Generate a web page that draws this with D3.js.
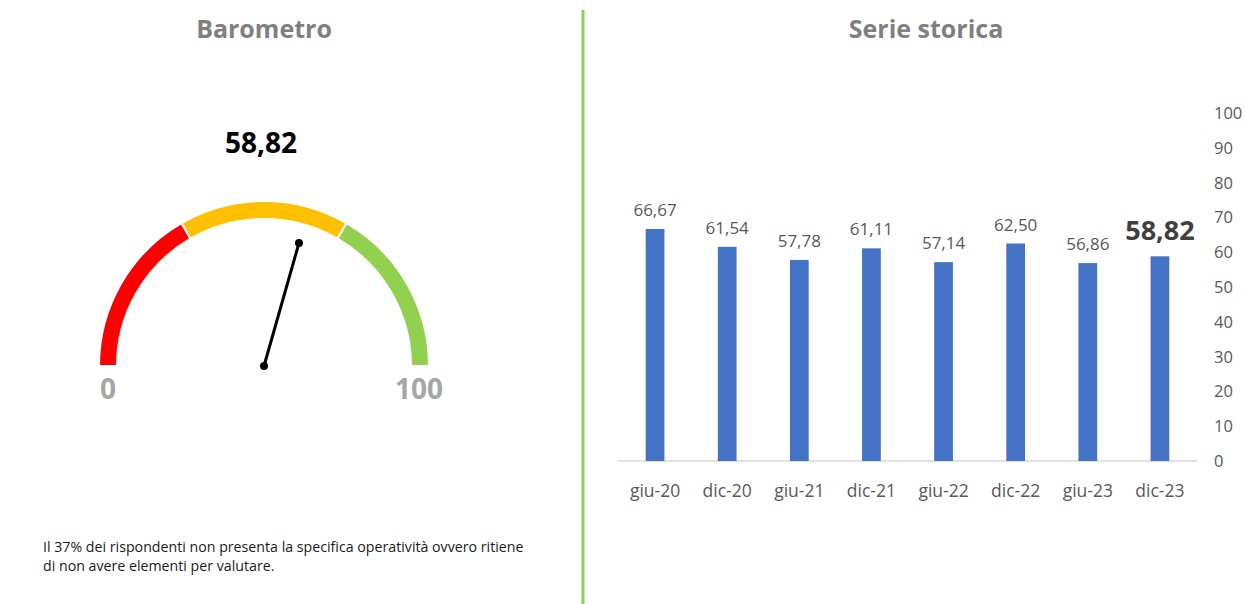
<!DOCTYPE html>
<html><head><meta charset="utf-8">
<script src="https://cdn.jsdelivr.net/npm/d3@7"></script>
<style>body{margin:0;background:#fff}svg{display:block}</style>
</head><body>
<script>
const categories = ["giu-20","dic-20","giu-21","dic-21","giu-22","dic-22","giu-23","dic-23"];
const values = [66.67,61.54,57.78,61.11,57.14,62.50,56.86,58.82];
const yTicks = [0,10,20,30,40,50,60,70,80,90,100];
const gaugeValue = 58.82;
const gaugeBands = [{from:0,to:33.33,color:"#ff0000"},{from:33.33,to:66.67,color:"#ffc000"},{from:66.67,to:100,color:"#92d050"}];
const gaugeLabels = [0,100];
const titles = ["Barometro","Serie storica"];
const note = ["Il 37% dei rispondenti non presenta la specifica operatività ovvero ritiene","di non avere elementi per valutare."];

const W=1245,H=604,font="'Open Sans', 'Noto Sans', sans-serif";
const fmt = v => v.toFixed(2).replace(".",",");
const svg = d3.select("body").append("svg").attr("width",W).attr("height",H).style("font-family",font);

// titles
svg.append("text").attr("x",264).attr("y",38).attr("text-anchor","middle").attr("font-size",25).attr("font-weight","bold").attr("fill","#7f7f7f").text(titles[0]);
svg.append("text").attr("x",926).attr("y",38).attr("text-anchor","middle").attr("font-size",25).attr("font-weight","bold").attr("fill","#7f7f7f").text(titles[1]);

// divider
svg.append("line").attr("x1",583).attr("x2",583).attr("y1",10).attr("y2",604).attr("stroke","#92d050").attr("stroke-width",3);

// gauge
const cx=264, cy=366, rO=165, rI=147;
const ang = d3.scaleLinear().domain([0,100]).range([-Math.PI/2, Math.PI/2]);
const g = svg.append("g").attr("transform",`translate(${cx},${cy})`);
const arc = d3.arc().innerRadius(rI).outerRadius(rO);
g.selectAll("path.band").data(gaugeBands).join("path").attr("class","band")
  .attr("d",d=>arc({startAngle:ang(d.from),endAngle:ang(d.to)}))
  .attr("fill",d=>d.color).attr("stroke","#fff").attr("stroke-width",2);
const nl=128, a=ang(gaugeValue);
const nx = nl*Math.sin(a), ny = -nl*Math.cos(a);
g.append("line").attr("x1",0).attr("y1",0).attr("x2",nx).attr("y2",ny).attr("stroke","#000").attr("stroke-width",3);
g.append("circle").attr("cx",0).attr("cy",0).attr("r",4).attr("fill","#000");
g.append("circle").attr("cx",nx).attr("cy",ny).attr("r",4).attr("fill","#000");
g.selectAll("text.gl").data(gaugeLabels).join("text").attr("class","gl")
  .attr("x",d=> d===0 ? -(rO+rI)/2 : (rO+rI)/2 - 1).attr("y",33).attr("text-anchor","middle")
  .attr("font-size",28).attr("font-weight","bold").attr("fill","#a6a6a6").text(d=>d);
svg.append("text").attr("x",261).attr("y",153).attr("text-anchor","middle").attr("font-size",28).attr("font-weight","bold").attr("fill","#000").text(fmt(gaugeValue));

// note
svg.append("g").selectAll("text").data(note).join("text").attr("x",43).attr("y",(d,i)=>552+i*19)
  .attr("font-size",14.2).attr("fill","#1a1a1a").text(d=>d);

// bar chart
const x = d3.scaleBand().domain(categories).range([619,1196]).paddingInner(0.74).paddingOuter(0.37);
const y = d3.scaleLinear().domain([0,100]).range([461,113]);
svg.append("line").attr("x1",617).attr("x2",1197).attr("y1",y(0)).attr("y2",y(0)).attr("stroke","#d9d9d9").attr("stroke-width",1.5);
svg.append("g").selectAll("rect").data(values).join("rect")
  .attr("x",(d,i)=>x(categories[i])).attr("width",x.bandwidth())
  .attr("y",d=>y(d)).attr("height",d=>y(0)-y(d)).attr("fill","#4472c4");
svg.append("g").selectAll("text").data(values).join("text")
  .attr("x",(d,i)=>x(categories[i])+x.bandwidth()/2)
  .attr("y",(d,i)=> i===values.length-1 ? y(d)-16 : y(d)-13)
  .attr("text-anchor","middle")
  .attr("font-size",(d,i)=> i===values.length-1 ? 27 : 17)
  .attr("font-weight",(d,i)=> i===values.length-1 ? "bold" : "normal")
  .attr("fill",(d,i)=> i===values.length-1 ? "#404040" : "#595959")
  .text(fmt);
svg.append("g").selectAll("text").data(categories).join("text")
  .attr("x",d=>x(d)+x.bandwidth()/2).attr("y",497).attr("text-anchor","middle")
  .attr("font-size",17.5).attr("fill","#595959").text(d=>d);
svg.append("g").selectAll("text").data(yTicks).join("text")
  .attr("x",1214).attr("y",d=>y(d)+6).attr("font-size",16.5).attr("fill","#595959").text(d=>d);
</script>
</body></html>
